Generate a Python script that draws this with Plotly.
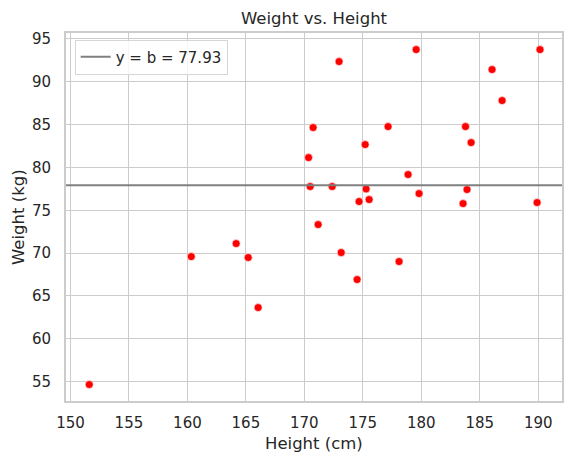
import plotly.graph_objects as go

heights = [172.97, 179.56, 190.15, 186.05, 186.91, 170.75, 177.16, 183.78, 184.26, 175.20,
           170.36, 178.87, 170.50, 172.38, 175.28, 179.81, 183.91, 174.68, 175.54, 183.57,
           189.90, 171.18, 173.15, 178.10, 174.51, 151.61, 160.33, 164.17, 165.20, 166.05]
weights = [92.36, 93.76, 93.76, 91.43, 87.81, 84.66, 84.77, 84.77, 82.90, 82.67,
           81.15, 79.17, 77.77, 77.77, 77.49, 76.95, 77.42, 76.02, 76.25, 75.78,
           75.90, 73.33, 70.06, 69.01, 66.91, 54.65, 69.59, 71.11, 69.48, 63.64]
b = 77.93
x_ticks = [150, 155, 160, 165, 170, 175, 180, 185, 190]
y_ticks = [55, 60, 65, 70, 75, 80, 85, 90, 95]

FONT = "DejaVu Sans"
TXT = "#262626"
GRID = "#cccccc"

fig = go.Figure()
fig.add_trace(go.Scatter(
    x=heights, y=weights, mode="markers", showlegend=False,
    marker=dict(color="red", size=8, line=dict(color="white", width=0.6)),
))
fig.add_shape(
    type="line", xref="x domain", yref="y", x0=0, x1=1, y0=b, y1=b,
    line=dict(color="gray", width=2), showlegend=True,
    name=f"y = b = {b:.2f}", layer="above",
)

axis_common = dict(
    showgrid=True, gridcolor=GRID, gridwidth=1.3,
    showline=True, linecolor=GRID, linewidth=1.7, mirror=True,
    zeroline=False, ticks="outside", tickcolor="rgba(0,0,0,0)",
    tickfont=dict(family=FONT, size=15, color=TXT), automargin=False,
)
fig.update_xaxes(range=[149.62, 192.03], tickvals=x_ticks, ticklen=7, **axis_common)
fig.update_yaxes(range=[52.73, 95.70], tickvals=y_ticks, ticklen=10, **axis_common)

title_font = dict(family=FONT, size=16.5, color=TXT)
fig.add_annotation(text="Height (cm)", xref="paper", yref="paper", x=0.5, y=-(443 - 400.7) / 368,
                   xanchor="center", yanchor="middle", showarrow=False, font=title_font)
fig.add_annotation(text="Weight (kg)", xref="paper", yref="paper", x=-(66 - 18) / 496, y=0.5,
                   xanchor="center", yanchor="middle", textangle=-90, showarrow=False, font=title_font)

# the page body adds an 8px offset, so the figure is sized to compensate
fig.update_layout(
    width=564, height=455,
    margin=dict(l=58, r=10, t=25, b=62),
    paper_bgcolor="white", plot_bgcolor="white",
    font=dict(family=FONT, color=TXT),
    title=dict(text="Weight vs. Height", x=0.5, xref="paper", xanchor="center",
               y=1 - 10 / 455, yref="container", yanchor="middle", font=title_font),
    legend=dict(x=0.0175, y=0.982, xanchor="left", yanchor="top",
                bgcolor="rgba(255,255,255,0.8)", bordercolor="#d6d6d6", borderwidth=1,
                font=dict(family=FONT, size=15, color=TXT)),
)

fig.write_html("out.html")
